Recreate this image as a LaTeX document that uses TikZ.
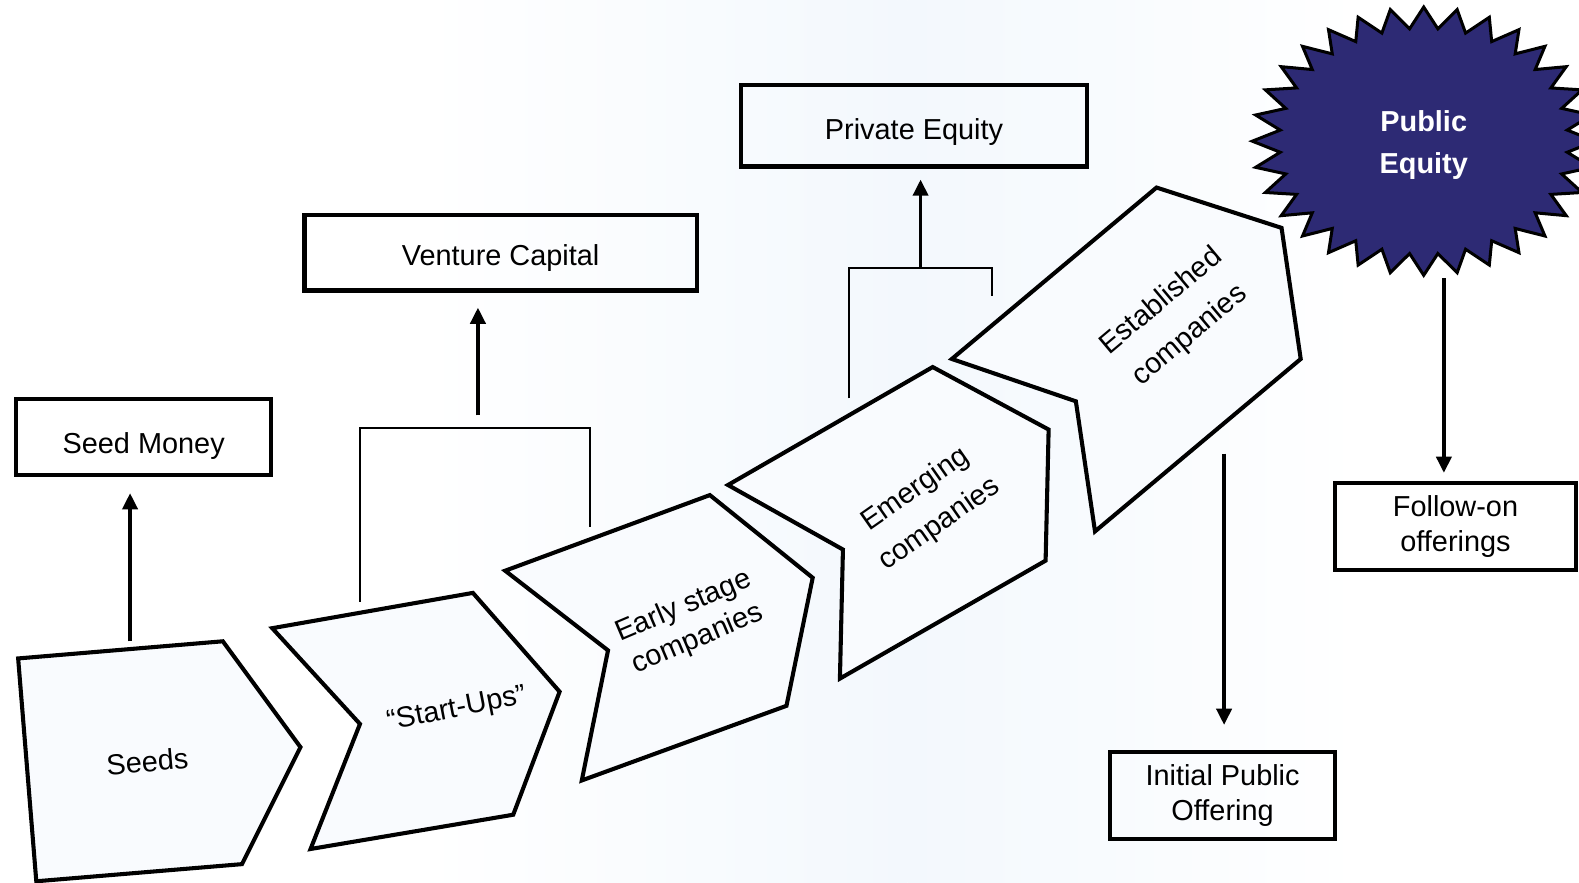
\documentclass[tikz,border=0pt]{standalone}
\usepackage{fontspec}
\setmainfont{Liberation Sans}
\usetikzlibrary{arrows.meta}
\definecolor{starblue}{RGB}{45,42,116}
\definecolor{bgtint}{RGB}{243,248,253}
\definecolor{stagefill}{RGB}{249,251,254}
\begin{document}
\begin{tikzpicture}[x=0.2mm,y=-0.2mm,
   stage/.style={draw,line width=2.3pt,fill=stagefill},
   stagetext/.style={align=center,inner sep=0pt,font=\fontsize{16.3}{20}\selectfont},
   fundbox/.style={draw,line width=2.4pt,align=center,inner sep=0pt,font=\fontsize{16.3}{20}\selectfont},
   arr/.style={line width=2pt,-{Triangle[length=3.2mm,width=3mm]}},
   bracket/.style={line width=1.1pt}]
   \useasboundingbox (0,0) rectangle (1566,875);
   \fill[white] (0,0) rectangle (1566,875);
   \shade[left color=white,right color=bgtint] (420,0) rectangle (900,875);
   \shade[left color=bgtint,right color=white] (900,0) rectangle (1350,875);
   \draw[stage] (18,653) -- (221,636) -- (298,741) -- (240,857) -- (36,874) -- cycle;
   \draw[stage] (270,623) -- (469,588) -- (555,686) -- (509,808) -- (308,842) -- (357,718) -- cycle;
   \draw[stage] (501,566) -- (704,491) -- (806,573) -- (780,700) -- (577,774) -- (603,645) -- cycle;
   \draw[stage] (722,481) -- (925,364) -- (1040,426) -- (1037,556) -- (833,673) -- (836,545) -- cycle;
   \draw[stage] (944,356) -- (1147,186) -- (1271,226) -- (1290,356) -- (1086,527) -- (1067,398) -- cycle;
   \node[stagetext,rotate=5]  (seeds)       at (146,755)  {Seeds};
   \node[stagetext,rotate=11] (startups)    at (453,704)  {“Start-Ups”};
   \node[stagetext,rotate=23] (early)       at (685,618)  {Early stage\\companies};
   \node[stagetext,rotate=35,font=\fontsize{16.3}{23.9}\selectfont] (emerging)    at (920,503)  {Emerging\\companies};
   \node[stagetext,rotate=40,font=\fontsize{16.3}{25}\selectfont]   (established) at (1166,316) {Established\\companies};
   \node[fundbox,minimum width=50.6mm,minimum height=15mm,text height=22pt,text depth=3.4pt]   (seedmoney) at (142.5,433.5) {Seed Money};
   \node[fundbox,minimum width=77.8mm,minimum height=15mm,text height=17.6pt,text depth=3.4pt] (venture)   at (496.5,250.5) {Venture Capital};
   \node[fundbox,minimum width=68.6mm,minimum height=16.2mm,text height=18.7pt,text depth=3.4pt] (private) at (906.5,124.5) {Private Equity};
   \node[fundbox,minimum width=44.6mm,minimum height=17.2mm] (ipo)       at (1212.5,789)  {Initial Public\\Offering};
   \node[fundbox,minimum width=47.8mm,minimum height=17.2mm] (followon)  at (1443.5,522)  {Follow-on\\offerings};
   \filldraw[fill=starblue,line width=1.7pt] (1582,140)
     \foreach \i [evaluate=\i as \rx using {mod(\i,2)==0?170:143},
                  evaluate=\i as \ry using {mod(\i,2)==0?133:112}] in {1,...,63}
     { -- ({1412+\rx*cos(\i*5.625)},{140+\ry*sin(\i*5.625)}) } -- cycle;
   \node[text=white,align=center,inner sep=0pt,font=\bfseries\fontsize{16.3}{23.9}\selectfont] (pubeq) at (1412,144) {Public\\Equity};
   \coordinate (seedtop) at (129,636);
   \coordinate (sulink)  at (357,597);
   \coordinate (eslink)  at (585,523);
   \coordinate (vcjoin)  at (474,424);
   \coordinate (vcfoot)  at (474,412);
   \coordinate (emlink)  at (842,395);
   \coordinate (estlink) at (984,294);
   \coordinate (pejoin)  at (913,266);
   \coordinate (esttail) at (1214,450);
   \coordinate (pubfoot) at (1432,276);
   \draw[arr,shorten >=3.2mm] (seedtop) -- (seedtop |- seedmoney.south);
   \draw[bracket] (sulink) |- (vcjoin) -| (eslink);
   \draw[arr,shorten >=3mm] (vcfoot) -- (vcfoot |- venture.south);
   \draw[bracket] (emlink) |- (pejoin) -| (estlink);
   \draw[arr,shorten >=2.2mm] (pejoin) -- (pejoin |- private.south);
   \draw[arr,shorten >=5mm] (esttail) -- (esttail |- ipo.north);
   \draw[arr,shorten >=1.6mm] (pubfoot) -- (pubfoot |- followon.north);
\end{tikzpicture}
\end{document}
